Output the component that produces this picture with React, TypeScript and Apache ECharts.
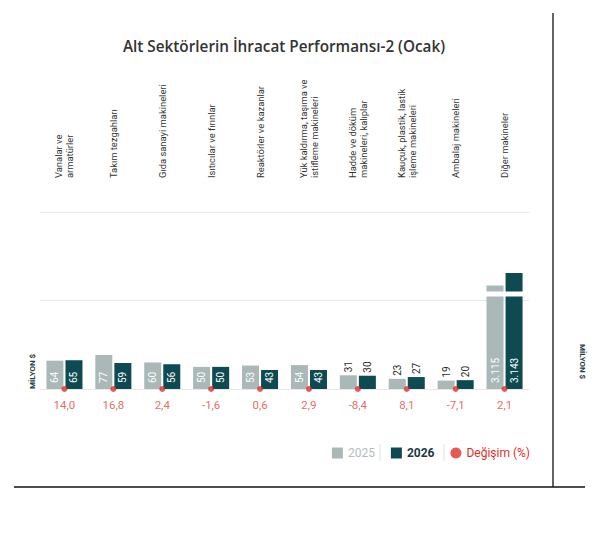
import React, { useEffect, useRef } from 'react';
import * as echarts from 'echarts';

const CATEGORIES = [
  'Vanalar ve\narmatürler',
  'Takım tezgahları',
  'Gıda sanayi makineleri',
  'Isıtıcılar ve fırınlar',
  'Reaktörler ve kazanlar',
  'Yük kaldırma, taşıma ve\nistifleme makineleri',
  'Hadde ve döküm\nmakineleri, kalıplar',
  'Kauçuk, plastik, lastik\nişleme makineleri',
  'Ambalaj makineleri',
  'Diğer makineler',
];
const Y2025 = [64, 77, 60, 50, 53, 54, 31, 23, 19, 3115];
const Y2026 = [65, 59, 56, 50, 43, 43, 30, 27, 20, 3143];
const CHANGE = [14.0, 16.8, 2.4, -1.6, 0.6, 2.9, -8.4, 8.1, -7.1, 2.1];
const GRID_LINES = [0, 200];
const BREAK_START = 210;
const BREAK_END = 3102;
const BREAK_GAP = 11;
const Y_MAX = 3281;

const C2025 = '#aab8b8';
const C2026 = '#0e4a51';
const RED = '#e0302a';
const FONT = 'Roboto';

const fmtNum = (v: number) => String(v).replace(/\B(?=(\d{3})+(?!\d))/g, '.');
const fmtPct = (v: number) => v.toFixed(1).replace('.', ',');

const labelFor = (v: number) =>
  v < 40
    ? {
        show: true,
        position: 'top',
        rotate: 90,
        align: 'left',
        verticalAlign: 'middle',
        distance: 3,
        color: '#2a2a2a',
        fontSize: 10,
        fontFamily: FONT,
        formatter: (p: any) => fmtNum(p.value),
      }
    : {
        show: true,
        position: 'insideBottom',
        rotate: 90,
        align: 'left',
        verticalAlign: 'middle',
        distance: 6,
        color: '#ffffff',
        fontSize: 10,
        fontFamily: FONT,
        formatter: (p: any) => fmtNum(p.value),
      };

export default function App() {
  const ref = useRef<HTMLDivElement>(null);
  useEffect(() => {
    const chart = echarts.init(ref.current!, null, { renderer: 'svg' });
    const option: any = {
      animation: false,
      backgroundColor: '#ffffff',
      textStyle: { fontFamily: FONT },
      title: {
        text: 'Alt Sektörlerin İhracat Performansı-2 (Ocak)',
        left: 279,
        textAlign: 'center',
        top: 33,
        textStyle: { fontFamily: 'Open Sans', fontSize: 15.3, fontWeight: 600, color: '#333333' },
      },
      legend: {
        right: 69,
        top: 447,
        padding: 0,
        itemWidth: 11,
        itemHeight: 11,
        itemGap: 16,
        textStyle: { fontFamily: FONT, fontSize: 12 },
        data: [
          { name: '2025', icon: 'rect', textStyle: { color: '#b3bdbd' } },
          { name: '2026', icon: 'rect', textStyle: { color: '#1e3a40', fontWeight: 'bold' } },
          { name: 'Değişim (%)', icon: 'circle', textStyle: { color: RED } },
        ],
      },
      grid: { left: 40, right: 70, top: 212, bottom: 154 },
      xAxis: {
        type: 'category',
        position: 'top',
        data: CATEGORIES,
        axisLine: { show: true, onZero: false, lineStyle: { color: '#e8e8e8', width: 1 } },
        axisTick: { show: false },
        axisLabel: {
          rotate: -90,
          align: 'left',
          verticalAlign: 'middle',
          margin: 34,
          interval: 0,
          fontSize: 9.4,
          lineHeight: 11,
          color: '#333333',
          fontFamily: FONT,
        },
      },
      yAxis: {
        type: 'value',
        min: 0,
        max: Y_MAX,
        breaks: [{ start: BREAK_START, end: BREAK_END, gap: BREAK_GAP }],
        breakArea: {
          show: true,
          itemStyle: { color: '#ffffff', borderColor: '#ffffff', borderWidth: 0, opacity: 1 },
          zigzagAmplitude: 0,
          zigzagZ: 100,
        },
        axisLabel: { show: false },
        axisTick: { show: false },
        axisLine: { show: false },
        splitLine: { show: false },
      },
      series: [
        {
          name: '2025',
          type: 'bar',
          barWidth: 17,
          barGap: '12%',
          itemStyle: { color: C2025 },
          data: Y2025.map((v) => ({ value: v, label: labelFor(v) })),
        },
        {
          name: '2026',
          type: 'bar',
          barWidth: 17,
          itemStyle: { color: C2026 },
          data: Y2026.map((v) => ({ value: v, label: labelFor(v) })),
        },
        {
          name: 'Değişim (%)',
          type: 'scatter',
          clip: false,
          symbol: 'circle',
          symbolSize: 6,
          z: 5,
          itemStyle: { color: RED },
          encode: { x: 0, y: 1 },
          data: CHANGE.map((c, i) => [i, 0, c]),
          label: {
            show: true,
            position: 'bottom',
            distance: 7,
            color: '#e0453c',
            fontSize: 11.5,
            fontFamily: FONT,
            formatter: (p: any) => fmtPct(p.value[2]),
          },
          markLine: {
            silent: true,
            symbol: 'none',
            label: { show: false },
            lineStyle: { color: '#e8e8e8', type: 'solid', width: 1 },
            data: GRID_LINES.map((g) => ({ yAxis: g })),
            z: 0,
          },
        },
      ],
      graphic: [
        {
          type: 'text',
          x: 32,
          y: 389,
          rotation: Math.PI / 2,
          style: {
            text: 'MİLYON $',
            fill: '#1d3d44',
            font: 'bold 8px Roboto',
            textAlign: 'left',
            textVerticalAlign: 'middle',
          },
        },
        {
          type: 'text',
          x: 582,
          y: 344,
          rotation: -Math.PI / 2,
          style: {
            text: 'MİLYON $',
            fill: '#1d3d44',
            font: 'bold 8px Roboto',
            textAlign: 'left',
            textVerticalAlign: 'middle',
          },
        },
        { type: 'line', shape: { x1: 380, y1: 444, x2: 380, y2: 461 }, style: { stroke: '#e2e2e2', lineWidth: 1 } },
        { type: 'line', shape: { x1: 444, y1: 444, x2: 444, y2: 461 }, style: { stroke: '#e2e2e2', lineWidth: 1 } },
        { type: 'line', shape: { x1: 553, y1: 13, x2: 553, y2: 487 }, style: { stroke: '#111111', lineWidth: 1.3 } },
        { type: 'line', shape: { x1: 14, y1: 487, x2: 585, y2: 487 }, style: { stroke: '#111111', lineWidth: 1.3 } },
      ],
    };
    chart.setOption(option);
    return () => chart.dispose();
  }, []);
  return (
    <div
      ref={ref}
      style={{ position: 'fixed', left: 0, top: 0, width: 599, height: 543, background: '#fff' }}
    />
  );
}
